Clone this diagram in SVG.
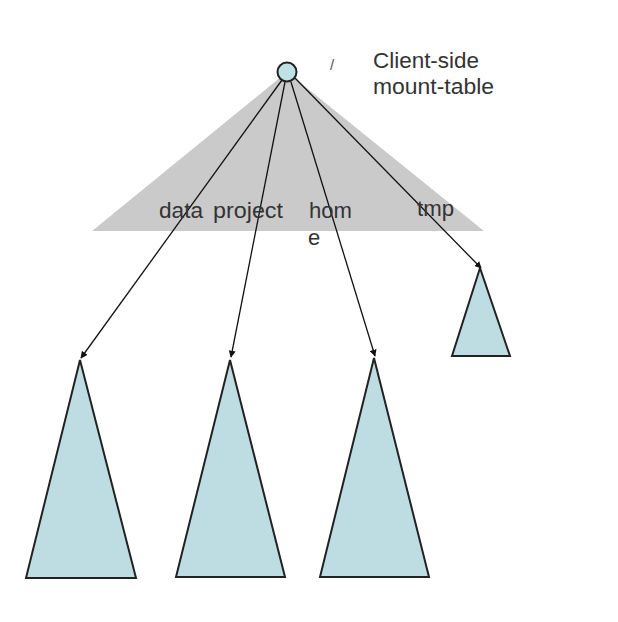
<svg xmlns="http://www.w3.org/2000/svg" width="618" height="622" viewBox="0 0 618 622">
<style>
.t{font-family:"Liberation Sans",Arial,sans-serif;font-size:22px;fill:#333}
.tree{fill:#bddde2;stroke:#222;stroke-width:2;stroke-linejoin:miter}
.c{stroke:#111;stroke-width:1.3;fill:none;marker-end:url(#ah)}
</style>
<defs>
<marker id="ah" viewBox="0 0 10 10" refX="9" refY="5" markerWidth="7" markerHeight="7" markerUnits="userSpaceOnUse" orient="auto">
<path d="M0,0 L10,5 L0,10 z" fill="#111"/>
</marker>
</defs>
<rect width="618" height="622" fill="#fff"/>
<g id="mount-table">
<polygon points="287,72 92,231 484,231" fill="#cacaca"/>
</g>
<g id="tree-data"><polygon class="tree" points="80,360 26,578 136,578"/></g>
<g id="tree-project"><polygon class="tree" points="230,360 176,577 285,577"/></g>
<g id="tree-home"><polygon class="tree" points="374,358 320,577 429,577"/></g>
<g id="tree-tmp"><polygon class="tree" points="480,268 452,356 510,356"/></g>
<g id="connectors">
<line class="c" x1="282" y1="80" x2="81" y2="358"/>
<line class="c" x1="285" y1="82" x2="231" y2="357"/>
<line class="c" x1="291" y1="82" x2="375" y2="356"/>
<line class="c" x1="295" y1="78" x2="481" y2="268"/>
</g>
<g id="root">
<circle cx="287" cy="72" r="9.5" fill="#bfe2e6" stroke="#222" stroke-width="2"/>
<text x="330" y="70" style="font-family:'Liberation Sans',Arial,sans-serif;font-size:15px;fill:#555">/</text>
</g>
<g id="labels">
<text class="t" x="373" y="68" textLength="106" lengthAdjust="spacingAndGlyphs">Client-side</text>
<text class="t" x="373" y="94" textLength="121" lengthAdjust="spacingAndGlyphs">mount-table</text>
<text class="t" x="159" y="218" textLength="44" lengthAdjust="spacingAndGlyphs">data</text>
<text class="t" x="213" y="218" textLength="70" lengthAdjust="spacingAndGlyphs">project</text>
<text class="t" x="309" y="218" textLength="43" lengthAdjust="spacingAndGlyphs">hom</text>
<text class="t" x="308" y="245">e</text>
<text class="t" x="417" y="216" textLength="37" lengthAdjust="spacingAndGlyphs">tmp</text>
</g>
</svg>
